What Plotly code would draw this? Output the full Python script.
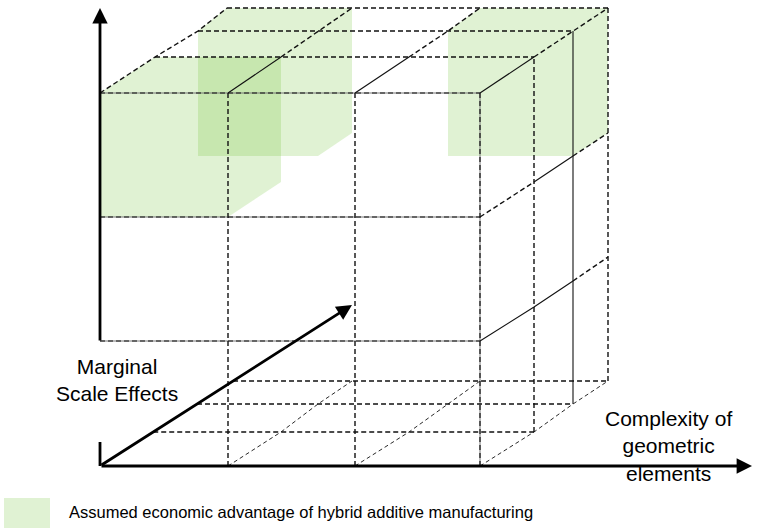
import plotly.graph_objects as go

# ---- diagram data (oblique 3x3x3 grid, pixel units of the drawing) ----
# x / y of grid nodes for each depth layer k = 0 (front) .. 3 (back)
depth_x = [[100, 228, 355, 480], [155, 281, 409, 534], [198, 318, 448, 573], [227, 352, 480, 608]]
depth_y = [[466, 341, 217, 93], [432, 307, 182, 57], [404, 281, 156, 31], [381, 257, 133, 8]]
# shaded cells: (column, row, depth from, depth to)
shaded_cells = [(0, 2, 0, 1), (0, 2, 2, 3), (2, 2, 2, 3)]
# axes arrows: (tail, head)
axis_x = ((100, 466), (752, 466))
axis_y = ((100, 342), (100, 8))
axis_depth = ((100, 466), (352, 305))
axis_y_stub = ((100, 442), (100, 466))

label_depth = "Marginal<br>Scale Effects"
label_x = "Complexity of<br>geometric<br>elements"
legend_text = "Assumed economic advantage of hybrid additive manufacturing"

GREEN = "rgba(90,185,20,0.19)"
FONT = "Arial, Liberation Sans, sans-serif"


def P(c, r, k):
    return depth_x[k][c], depth_y[k][r]


def depth_arrow_x(y):
    (x0, y0), (x1, y1) = axis_depth
    return x0 + (y0 - y) * (x1 - x0) / (y0 - y1)


styles = {"overlay": [], "dash": [], "solid": [], "thin": []}

for r in (1, 2, 3):
    styles["overlay"].append([P(0, r, 0), P(3, r, 0)])
styles["overlay"].append([P(3, 0, 0), P(3, 3, 0)])
for c in (1, 2):
    styles["dash"].append([P(c, 0, 0), P(c, 3, 0)])
for k in (1, 3):
    styles["dash"].append([P(3, 0, k), P(3, 3, k)])
styles["solid"].append([P(3, 0, 2), P(3, 3, 2)])
for k in (1, 2, 3):
    styles["dash"].append([P(0, 3, k), P(3, 3, k)])
    y = depth_y[k][0]
    styles["dash"].append([(depth_arrow_x(y), y), P(3, 0, k)])
styles["dash"].append([P(0, 3, 0), P(0, 3, 1), P(0, 3, 2), P(0, 3, 3)])
for c in (1, 2, 3):
    styles["solid"].append([P(c, 3, 0), P(c, 3, 1)])
    styles["dash"].append([P(c, 3, 1), P(c, 3, 2), P(c, 3, 3)])
    styles["thin"].append([P(c, 0, 0), P(c, 0, 1), P(c, 0, 2), P(c, 0, 3)])
styles["dash"].append([P(3, 2, 0), P(3, 2, 1)])
styles["solid"].append([P(3, 2, 1), P(3, 2, 2)])
styles["dash"].append([P(3, 2, 2), P(3, 2, 3)])
styles["solid"].append([P(3, 1, 0), P(3, 1, 1), P(3, 1, 2)])
styles["dash"].append([P(3, 1, 2), P(3, 1, 3)])

fig = go.Figure()

# shaded boxes (front, top and side faces)
for c, r, k0, k1 in shaded_cells:
    faces = [
        [P(c, r, k0), P(c + 1, r, k0), P(c + 1, r + 1, k0), P(c, r + 1, k0)],
        [P(c, r + 1, k0), P(c + 1, r + 1, k0), P(c + 1, r + 1, k1), P(c, r + 1, k1)],
        [P(c + 1, r, k0), P(c + 1, r, k1), P(c + 1, r + 1, k1), P(c + 1, r + 1, k0)],
    ]
    for f in faces:
        fig.add_trace(go.Scatter(
            x=[p[0] for p in f] + [f[0][0]], y=[p[1] for p in f] + [f[0][1]],
            mode="lines", fill="toself", fillcolor=GREEN,
            line=dict(width=0), hoverinfo="skip", showlegend=False))


def add_lines(segs, **line):
    xs, ys = [], []
    for s in segs:
        xs += [p[0] for p in s] + [None]
        ys += [p[1] for p in s] + [None]
    fig.add_trace(go.Scatter(x=xs, y=ys, mode="lines", line=line,
                             hoverinfo="skip", showlegend=False))


add_lines(styles["overlay"], color="#777777", width=1)
add_lines(styles["overlay"], color="#111111", width=1.2, dash="5px,3px")
add_lines(styles["dash"], color="#111111", width=1.4, dash="5px,3px")
add_lines(styles["solid"], color="#111111", width=1.1)
add_lines(styles["thin"], color="#111111", width=0.9, dash="4px,3px")
add_lines([list(axis_y_stub)], color="#000000", width=2.8)

for (tx, ty), (hx, hy) in (axis_x, axis_y, axis_depth):
    fig.add_annotation(x=hx, y=hy, ax=tx, ay=ty, xref="x", yref="y",
                       axref="x", ayref="y", text="", showarrow=True,
                       arrowhead=2, arrowsize=1.1, arrowwidth=2.8,
                       arrowcolor="#000000", standoff=0, startstandoff=0)

fig.add_annotation(x=117, y=380, text=label_depth, showarrow=False,
                   xanchor="center", yanchor="middle", align="center",
                   font=dict(family=FONT, size=21, color="#000000"))
fig.add_annotation(x=668, y=446, text=label_x, showarrow=False,
                   xanchor="center", yanchor="middle", align="center",
                   font=dict(family=FONT, size=21, color="#000000"))

fig.add_shape(type="rect", x0=4, x1=50, y0=498, y1=528, xref="x", yref="y",
              fillcolor=GREEN, line=dict(width=0))
fig.add_annotation(x=67, y=512, text=legend_text, showarrow=False,
                   xanchor="left", yanchor="middle",
                   font=dict(family=FONT, size=16.5, color="#000000"))

fig.update_layout(
    width=758, height=529, margin=dict(l=0, r=0, t=0, b=0),
    paper_bgcolor="white", plot_bgcolor="white",
    xaxis=dict(range=[0, 758], visible=False, fixedrange=True),
    yaxis=dict(range=[529, 0], visible=False, fixedrange=True),
)

fig.write_html("out.html", config={"displayModeBar": False},
               post_script="document.body.style.margin='0';"
                           "document.body.style.overflow='hidden';")
